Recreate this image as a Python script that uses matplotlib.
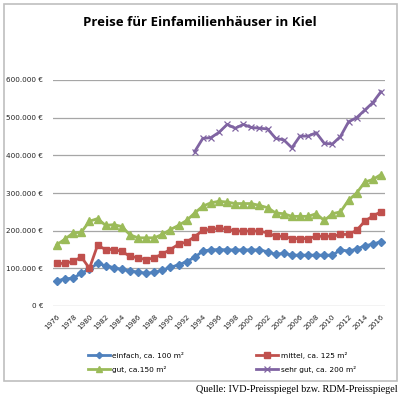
import matplotlib
matplotlib.use("Agg")
import matplotlib.pyplot as plt
from matplotlib.patches import Rectangle
from matplotlib.ticker import FuncFormatter

years = list(range(1976, 2017))

einfach = [67, 72, 74, 87, 98, 113, 107, 102, 97, 93, 90, 87, 89, 95, 103, 109,
           118, 129, 146, 149, 150, 149, 149, 149, 149, 149, 144, 137, 140, 135,
           135, 135, 135, 135, 135, 149, 146, 151, 160, 164, 171]
mittel = [113, 113, 119, 130, 100, 161, 150, 150, 145, 132, 128, 123, 128, 138,
          150, 164, 170, 184, 201, 204, 206, 204, 199, 199, 199, 199, 194, 185,
          185, 179, 179, 179, 185, 185, 185, 190, 190, 201, 225, 239, 250]
gut = [163, 178, 194, 196, 225, 232, 214, 216, 211, 189, 181, 181, 181, 190,
       203, 214, 227, 247, 265, 274, 278, 276, 272, 272, 272, 267, 261, 247,
       245, 238, 238, 238, 245, 227, 245, 250, 281, 300, 329, 336, 349]
sehr_gut_years = list(range(1993, 2017))
sehr_gut = [410, 445, 447, 461, 482, 472, 482, 474, 472, 470, 445, 441, 420,
            451, 451, 460, 432, 430, 450, 489, 500, 520, 540, 569]

labels = ["einfach, ca. 100 m²", "mittel, ca. 125 m²", "gut, ca.150 m²", "sehr gut, ca. 200 m²"]
colors = ["#4F81BD", "#C0504D", "#9BBB59", "#8064A2"]

fig = plt.figure(figsize=(4.02, 4.0), dpi=100)
ax = fig.add_axes([53 / 402, 94 / 400, 332 / 402, 226 / 400])

k = 1000
l1, = ax.plot(years, [v * k for v in einfach], color=colors[0], lw=2, marker="D", ms=4)
l2, = ax.plot(years, [v * k for v in mittel], color=colors[1], lw=2, marker="s", ms=5)
l3, = ax.plot(years, [v * k for v in gut], color=colors[2], lw=2, marker="^", ms=5.5)
l4, = ax.plot(sehr_gut_years, [v * k for v in sehr_gut], color=colors[3], lw=2,
              marker="x", ms=5, mew=0.9)

ax.set_xlim(1975.5, 2016.5)
ax.set_ylim(0, 600000)
ax.set_yticks(range(0, 600001, 100000))
ax.yaxis.set_major_formatter(FuncFormatter(lambda v, p: f"{int(v):,} €".replace(",", ".")))
ax.set_xticks(years[::2])
ax.set_xticklabels([str(y) for y in years[::2]], rotation=45, ha="right", rotation_mode="anchor")
ax.tick_params(axis="both", length=0, labelsize=5.2, colors="#222222")
ax.tick_params(axis="x", pad=5)
ax.tick_params(axis="y", pad=7)
ax.grid(axis="y", color="#A6A6A6", lw=0.9)
ax.set_axisbelow(True)
for s in ax.spines.values():
    s.set_visible(False)

fig.text(200 / 402, 1 - 22 / 400, "Preise für Einfamilienhäuser in Kiel", ha="center",
         va="center", fontsize=9.5, fontweight="bold", family="Open Sans")

# legend is filled column by column, so order handles to get row-wise layout
fig.legend([l1, l3, l2, l4], [labels[0], labels[2], labels[1], labels[3]], ncol=2,
           loc="upper left", bbox_to_anchor=(88 / 402, 1 - 352 / 400),
           frameon=False, fontsize=5.3, handlelength=3.0, columnspacing=9.8, handletextpad=0.3,
           labelspacing=0.9, markerscale=0.8, borderpad=0, borderaxespad=0)

fig.patches.append(Rectangle((4 / 402, 1 - 381 / 400), 393 / 402, 377 / 400,
                             transform=fig.transFigure, fill=False, ec="#BFBFBF", lw=1.2))

fig.text(398 / 402, 1 - 390 / 400, "Quelle: IVD-Preisspiegel bzw. RDM-Preisspiegel",
         ha="right", va="center", fontsize=7.3, family="Liberation Serif")

fig.savefig("out.png", dpi=100)
